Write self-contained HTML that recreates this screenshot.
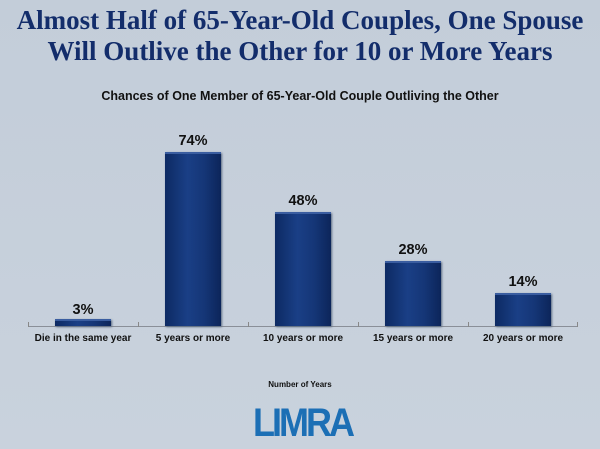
<!DOCTYPE html>
<html><head><style>
body{margin:0;width:600px;height:449px;overflow:hidden;background:linear-gradient(#c3cdd9,#c9d2dd);font-family:"Liberation Sans",sans-serif;position:relative}
.t{position:absolute;left:0;width:600px;text-align:center;font-family:"Liberation Serif",serif;font-weight:bold;font-size:27px;color:#132d6b;line-height:31px;top:5px}
.s{position:absolute;left:0;width:600px;text-align:center;font-weight:bold;font-size:12.5px;top:89px;color:#111}
.bar{position:absolute;width:56px;background:linear-gradient(90deg,#0d2a63,#1a3f86 40%,#153677 70%,#0c255a);box-shadow:inset 0 2px 0 #3a5da0,1px 1px 2px #5a6a80}
.v{position:absolute;width:110px;text-align:center;font-weight:bold;font-size:14.5px;color:#111}
.c{position:absolute;width:110px;text-align:center;font-weight:bold;font-size:10px;top:333px;color:#111}
.tick{position:absolute;top:322px;width:1px;height:5px;background:#888}
</style></head><body>
<div class="t">Almost Half of 65-Year-Old Couples, One Spouse<br>Will Outlive the Other for 10 or More Years</div>
<div class="s">Chances of One Member of 65-Year-Old Couple Outliving the Other</div>
<div style="position:absolute;left:28px;top:326px;width:550px;height:1px;background:#8a8f98"></div>
<div class="tick" style="left:28px"></div><div class="tick" style="left:138px"></div><div class="tick" style="left:248px"></div><div class="tick" style="left:358px"></div><div class="tick" style="left:468px"></div><div class="tick" style="left:577px"></div>
<div class="bar" style="left:55px;top:319px;height:7px"></div>
<div class="bar" style="left:165px;top:152px;height:174px"></div>
<div class="bar" style="left:275px;top:212px;height:114px"></div>
<div class="bar" style="left:385px;top:261px;height:65px"></div>
<div class="bar" style="left:495px;top:293px;height:33px"></div>
<div class="v" style="left:28px;top:302px">3%</div>
<div class="v" style="left:138px;top:133px">74%</div>
<div class="v" style="left:248px;top:193px">48%</div>
<div class="v" style="left:358px;top:242px">28%</div>
<div class="v" style="left:468px;top:274px">14%</div>
<div class="c" style="left:28px">Die in the same year</div>
<div class="c" style="left:138px">5 years or more</div>
<div class="c" style="left:248px">10 years or more</div>
<div class="c" style="left:358px">15 years or more</div>
<div class="c" style="left:468px">20 years or more</div>
<div style="position:absolute;left:0;width:600px;text-align:center;top:380px;font-weight:bold;font-size:8px;color:#111">Number of Years</div>
<div style="position:absolute;left:250px;top:403px;width:105px;text-align:center;font-weight:bold;font-size:36px;letter-spacing:-3px;color:#1c6fb5;line-height:40px;transform:scaleY(1.1)">LIMRA</div>
</body></html>
